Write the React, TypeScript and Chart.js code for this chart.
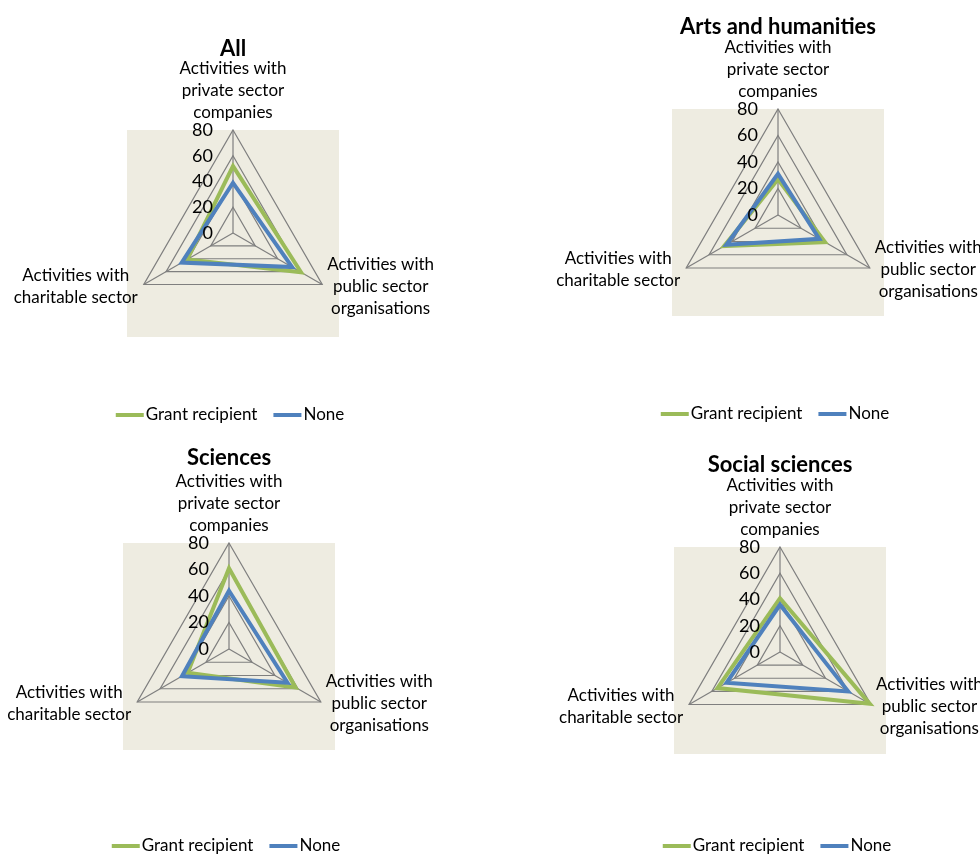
import React, { useEffect, useRef } from "react";
import { Chart, registerables } from "chart.js";

Chart.register(...registerables);

// ---- data ----
const axisLabels: string[][] = [
  ["Activities with", "private sector", "companies"],
  ["Activities with", "public sector", "organisations"],
  ["Activities with", "charitable sector"],
];
const seriesNames = ["Grant recipient", "None"];
const seriesColors = ["#9BBB59", "#4F81BD"];
const tickValues = [0, 20, 40, 60, 80];

const allGrant = [52, 61, 41];
const allNone = [39, 53, 46];
const artsGrant = [27, 41, 47];
const artsNone = [31, 36, 45];
const sciGrant = [61, 58, 36];
const sciNone = [44, 51, 41];
const socGrant = [41, 79, 55];
const socNone = [36, 60, 47];

// ---- layout ----
const W = 490;
const H = 427;
const FONT = "Lato, 'Open Sans', sans-serif";

type Panel = {
  title: string;
  grant: number[];
  none: number[];
  left: number;
  top: number;
  cx: number;
  cy: number;
  r: number;
  titleY: number;
  legendY: number;
};

const panels: Panel[] = [
  { title: "All", grant: allGrant, none: allNone, left: 0, top: 0, cx: 233, cy: 233, r: 103, titleY: 49, legendY: 415 },
  { title: "Arts and humanities", grant: artsGrant, none: artsNone, left: 490, top: 0, cx: 778, cy: 215, r: 106, titleY: 27, legendY: 414 },
  { title: "Sciences", grant: sciGrant, none: sciNone, left: 0, top: 428, cx: 229, cy: 649, r: 106, titleY: 458, legendY: 846 },
  { title: "Social sciences", grant: socGrant, none: socNone, left: 490, top: 428, cx: 780, cy: 652, r: 105, titleY: 465, legendY: 846 },
];

const decorPlugin = {
  id: "decor",
  beforeDraw(chart: any) {
    const s = chart.scales.r;
    const ctx = chart.ctx;
    ctx.save();
    ctx.fillStyle = "#EEECE1";
    ctx.fillRect(s.xCenter - 106, s.yCenter - s.drawingArea, 212, 207);
    ctx.restore();
  },
  afterDraw(chart: any) {
    const s = chart.scales.r;
    const ctx = chart.ctx;
    const opts = chart.options.plugins.decor;
    ctx.save();
    ctx.fillStyle = "#000";
    // tick labels
    ctx.font = `18px ${FONT}`;
    ctx.textAlign = "right";
    ctx.textBaseline = "middle";
    tickValues.forEach((v) => {
      const y = s.yCenter - s.getDistanceFromCenterForValue(v);
      ctx.fillText(String(v), s.xCenter - 20, y);
    });
    // point labels
    ctx.font = `17px ${FONT}`;
    const lh = 22;
    chart.data.labels.forEach((lines: string[], i: number) => {
      const p = s.getPointPosition(i, s.drawingArea);
      const widths = lines.map((l) => ctx.measureText(l).width);
      const bw = Math.max(...widths);
      ctx.textAlign = "center";
      if (i === 0) {
        lines.forEach((l, k) => {
          ctx.fillText(l, p.x, p.y - 17 - (lines.length - 1 - k) * lh);
        });
      } else {
        const cxB = i === 1 ? p.x + 5 + bw / 2 : p.x - 6 - bw / 2;
        const y0 = p.y + 2 - ((lines.length - 1) * lh) / 2;
        lines.forEach((l, k) => ctx.fillText(l, cxB, y0 + k * lh));
      }
    });
    // title
    ctx.font = `bold 22px ${FONT}`;
    ctx.textAlign = "center";
    ctx.fillText(opts.title, s.xCenter, opts.titleY);
    // legend
    ctx.font = `17px ${FONT}`;
    const lineLen = 28;
    const gap = 2;
    const itemGap = 16;
    const tw = seriesNames.map((n) => ctx.measureText(n).width);
    const total = tw.reduce((a, b) => a + b, 0) + seriesNames.length * (lineLen + gap) + itemGap * (seriesNames.length - 1);
    let x = s.xCenter - 3 - total / 2;
    ctx.textAlign = "left";
    seriesNames.forEach((n, k) => {
      ctx.strokeStyle = seriesColors[k];
      ctx.lineWidth = 4;
      ctx.beginPath();
      ctx.moveTo(x, opts.legendY);
      ctx.lineTo(x + lineLen, opts.legendY);
      ctx.stroke();
      x += lineLen + gap;
      ctx.fillText(n, x, opts.legendY);
      x += tw[k] + itemGap;
    });
    ctx.restore();
  },
};

function RadarPanel({ p }: { p: Panel }) {
  const ref = useRef<HTMLCanvasElement>(null);
  useEffect(() => {
    if (!ref.current) return;
    const lx = p.cx - p.left;
    const ly = p.cy - p.top;
    const chart = new Chart(ref.current, {
      type: "radar",
      data: {
        labels: axisLabels as any,
        datasets: [
          {
            label: seriesNames[0],
            data: p.grant,
            borderColor: seriesColors[0],
            backgroundColor: "rgba(0,0,0,0)",
            borderWidth: 4,
            pointRadius: 0,
            fill: false,
            order: 1,
          },
          {
            label: seriesNames[1],
            data: p.none,
            borderColor: seriesColors[1],
            backgroundColor: "rgba(0,0,0,0)",
            borderWidth: 4,
            pointRadius: 0,
            fill: false,
            order: 0,
          },
        ],
      },
      options: {
        responsive: false,
        animation: false,
        devicePixelRatio: 1,
        layout: {
          padding: {
            left: lx - p.r,
            top: ly - p.r,
            right: W - (lx + p.r),
            bottom: H - (ly + p.r),
          },
        },
        plugins: {
          legend: { display: false },
          title: { display: false },
          tooltip: { enabled: false },
          decor: { title: p.title, titleY: p.titleY - p.top, legendY: p.legendY - p.top },
        } as any,
        scales: {
          r: {
            min: 0,
            max: 80,
            ticks: { display: false, stepSize: 20 },
            pointLabels: { display: false },
            grid: { color: "#7F7F7F", lineWidth: 1.2, circular: false },
            angleLines: { color: "#7F7F7F", lineWidth: 1.2 },
          },
        },
      },
      plugins: [decorPlugin],
    });
    return () => chart.destroy();
  }, [p]);
  return (
    <canvas
      ref={ref}
      width={W}
      height={H}
      style={{ position: "absolute", left: p.left, top: p.top, width: W, height: H }}
    />
  );
}

export default function App() {
  return (
    <div style={{ position: "absolute", left: 0, top: 0, width: 980, height: 855, background: "#fff", overflow: "hidden" }}>
      {panels.map((p) => (
        <RadarPanel key={p.title} p={p} />
      ))}
    </div>
  );
}
